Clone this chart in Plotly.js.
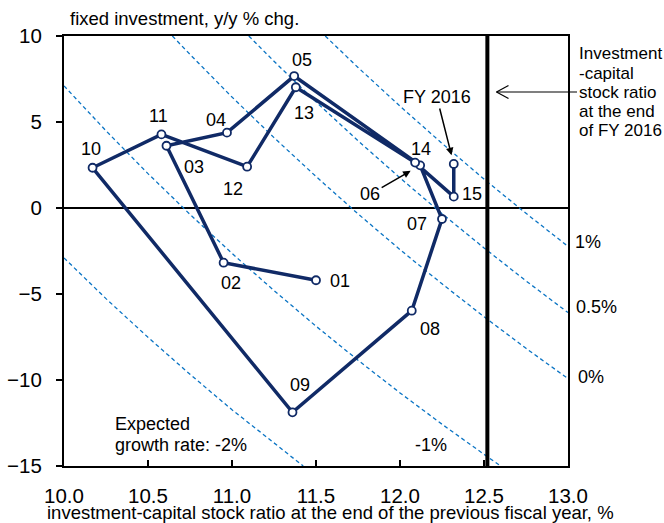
<!DOCTYPE html>
<html>
<head>
<meta charset="utf-8">
<script src="https://cdn.plot.ly/plotly-3.0.1.min.js"></script>
<style>html,body{margin:0;padding:0;background:#fff;}#chart{width:664px;height:523px;}</style>
</head>
<body>
<div id="chart"></div>
<script>
// ---- data ----
const fiscalYears = ['01','02','03','04','05','06','07','08','09','10','11','12','13','14','15','16'];
const ratioPrevEnd = [11.50, 10.95, 10.61, 10.97, 11.37, 12.12, 12.25, 12.07, 11.36, 10.17, 10.58, 11.09, 11.38, 12.09, 12.32, 12.32];
const investGrowth = [-4.20, -3.18, 3.62, 4.38, 7.67, 2.48, -0.64, -5.97, -11.88, 2.34, 4.28, 2.40, 7.02, 2.64, 0.66, 2.56];
const ratioEndFY2016 = 12.52;

// expected growth rate guide curves
const guideLabels = ['-2%', '-1%', '0%', '0.5%', '1%'];
const guideM2X = [10.0, 10.25, 10.5, 10.75, 11.0, 11.25, 11.424];
const guideM2Y = [-2.9, -5.27, -7.52, -9.67, -11.73, -13.69, -15.0];
const guideM1X = [10.0, 10.25, 10.5, 10.75, 11.0, 11.25, 11.5, 11.75, 12.0, 12.25, 12.5, 12.6];
const guideM1Y = [7.1, 4.49, 2.0, -0.37, -2.64, -4.8, -6.87, -8.85, -10.75, -12.57, -14.32, -15.0];
const guide0X = [10.645, 10.75, 11.0, 11.25, 11.5, 11.75, 12.0, 12.25, 12.5, 12.75, 13.0];
const guide0Y = [10.0, 8.93, 6.45, 4.09, 1.83, -0.34, -2.42, -4.41, -6.32, -8.16, -9.92];
const guide05X = [11.1, 11.25, 11.5, 11.75, 12.0, 12.25, 12.5, 12.75, 13.0];
const guide05Y = [10.0, 8.53, 6.17, 3.91, 1.75, -0.33, -2.32, -4.24, -6.08];
const guide1X = [11.555, 11.75, 12.0, 12.25, 12.5, 12.75, 13.0];
const guide1Y = [10.0, 8.17, 5.92, 3.76, 1.68, -0.31, -2.23];

const xTickVals = [10.0, 10.5, 11.0, 11.5, 12.0, 12.5, 13.0];
const yTickVals = [-15, -10, -5, 0, 5, 10];

// ---- styling / layout ----
const W = 664, H = 523, ML = 64, MR = 96, MT = 36, MB = 57;
const PW = W - ML - MR, PH = H - MT - MB;
const px = x => (x - ML) / PW;
const py = y => (H - MB - y) / PH;
const FONT = 'Liberation Sans, Arial, sans-serif';
const NAVY = '#102a66';
const BLUE = '#0a74c4';

const guides = [[guideM2X, guideM2Y], [guideM1X, guideM1Y], [guide0X, guide0Y], [guide05X, guide05Y], [guide1X, guide1Y]];
const traces = guides.map((g, i) => ({
  x: g[0], y: g[1], type: 'scatter', mode: 'lines', name: guideLabels[i],
  line: {color: BLUE, width: 1.3, dash: '4px,3px'}, hoverinfo: 'skip', showlegend: false
}));
traces.push({
  x: ratioPrevEnd, y: investGrowth, text: fiscalYears, type: 'scatter', mode: 'lines+markers',
  line: {color: NAVY, width: 3.5},
  marker: {symbol: 'circle', size: 8, color: '#ffffff', line: {color: NAVY, width: 1.8}},
  showlegend: false, cliponaxis: false
});

// label offsets (pixels) per fiscal year
const labelShift = {
  '01': [24, -1], '02': [7, -20], '03': [28, -21], '04': [-11, 13], '05': [8, 16],
  '07': [-25, -5], '08': [18, -18], '09': [8, 27], '10': [-2, 19], '11': [-3, 18],
  '12': [-14, -22], '13': [8, -26], '14': [6, 14], '15': [18, 3]
};
const ann = [];
fiscalYears.forEach((fy, i) => {
  if (labelShift[fy]) {
    ann.push({x: ratioPrevEnd[i], y: investGrowth[i], xref: 'x', yref: 'y', text: fy, showarrow: false,
      xshift: labelShift[fy][0], yshift: labelShift[fy][1], font: {size: 18, color: '#000', family: FONT}});
  }
});
const i06 = fiscalYears.indexOf('06');
ann.push({x: ratioPrevEnd[i06], y: investGrowth[i06], xref: 'x', yref: 'y', text: '06', showarrow: true,
  ax: -50, ay: 29, arrowhead: 2, arrowsize: 1, arrowwidth: 1.5, arrowcolor: '#000', standoff: 11,
  font: {size: 18, color: '#000', family: FONT}});
const i16 = fiscalYears.indexOf('16');
ann.push({x: ratioPrevEnd[i16], y: investGrowth[i16], xref: 'x', yref: 'y', text: 'FY 2016', showarrow: true,
  ax: -17, ay: -67, arrowhead: 2, arrowsize: 1, arrowwidth: 1.5, arrowcolor: '#000', standoff: 9,
  font: {size: 18, color: '#000', family: FONT}});

// right-side explanatory text
const rightLines = ['Investment', '-capital', 'stock ratio', 'at the end', 'of FY 2016'];
const rightY = [54, 73.3, 92.7, 111.7, 130];
rightLines.forEach((t, i) => ann.push({xref: 'paper', yref: 'paper', x: px(577), y: py(rightY[i]), xanchor: 'left', yanchor: 'middle',
  text: t, showarrow: false, font: {size: 17, color: '#000', family: FONT}}));

// guide labels
const gl = [
  {t: '1%', x: 573, y: 241.7, a: 'left'}, {t: '0.5%', x: 574, y: 307.3, a: 'left'}, {t: '0%', x: 576, y: 376.7, a: 'left'},
  {t: '-1%', x: 430.7, y: 445, a: 'center'}, {t: 'Expected', x: 113, y: 424, a: 'left'}, {t: 'growth rate: -2%', x: 113, y: 445, a: 'left'}
];
gl.forEach(g => ann.push({xref: 'paper', yref: 'paper', x: px(g.x), y: py(g.y), xanchor: g.a, yanchor: 'middle',
  text: g.t, showarrow: false, font: {size: 18, color: '#000', family: FONT}}));

// axis titles
ann.push({xref: 'paper', yref: 'paper', x: px(68), y: py(18), xanchor: 'left', yanchor: 'middle',
  text: 'fixed investment, y/y % chg.', showarrow: false, font: {size: 18.5, color: '#000', family: FONT}});
ann.push({xref: 'paper', yref: 'paper', x: px(330), y: py(512.5), xanchor: 'center', yanchor: 'middle',
  text: 'investment-capital stock ratio at the end of the previous fiscal year, %', showarrow: false,
  font: {size: 18.5, color: '#000', family: FONT}});

const shapes = [
  {type: 'line', xref: 'x', yref: 'y', x0: ratioEndFY2016, x1: ratioEndFY2016, y0: -15, y1: 10, line: {color: '#000', width: 4}, layer: 'above'},
  {type: 'line', xref: 'paper', yref: 'paper', x0: px(496.5), y0: py(92), x1: px(577), y1: py(92), line: {color: '#000', width: 1.2}},
  {type: 'line', xref: 'paper', yref: 'paper', x0: px(496.5), y0: py(92), x1: px(508.5), y1: py(85.5), line: {color: '#000', width: 1.2}},
  {type: 'line', xref: 'paper', yref: 'paper', x0: px(496.5), y0: py(92), x1: px(508.5), y1: py(98.5), line: {color: '#000', width: 1.2}}
];

const layout = {
  width: W, height: H, margin: {l: ML, r: MR, t: MT, b: MB, pad: 0},
  paper_bgcolor: '#fff', plot_bgcolor: '#fff', showlegend: false,
  font: {family: FONT, color: '#000'},
  xaxis: {range: [10, 13], tickvals: xTickVals, ticktext: xTickVals.map(v => v.toFixed(1)),
    ticks: 'inside', ticklen: 6, tickwidth: 1.5, tickcolor: '#000', showgrid: false, zeroline: false,
    showline: true, linecolor: '#000', linewidth: 2, mirror: true, ticklabelstandoff: 10,
    tickfont: {size: 20.5, color: '#000', family: FONT}},
  yaxis: {range: [-15, 10], tickvals: yTickVals, ticks: 'outside', ticklen: 6, tickwidth: 1.5, tickcolor: '#000',
    showgrid: false, zeroline: true, zerolinecolor: '#000', zerolinewidth: 2,
    showline: true, linecolor: '#000', linewidth: 2, mirror: true, ticklabelstandoff: 10,
    tickfont: {size: 20.5, color: '#000', family: FONT}},
  shapes: shapes, annotations: ann
};

Plotly.newPlot('chart', traces, layout, {staticPlot: true, displayModeBar: false});
</script>
</body>
</html>
